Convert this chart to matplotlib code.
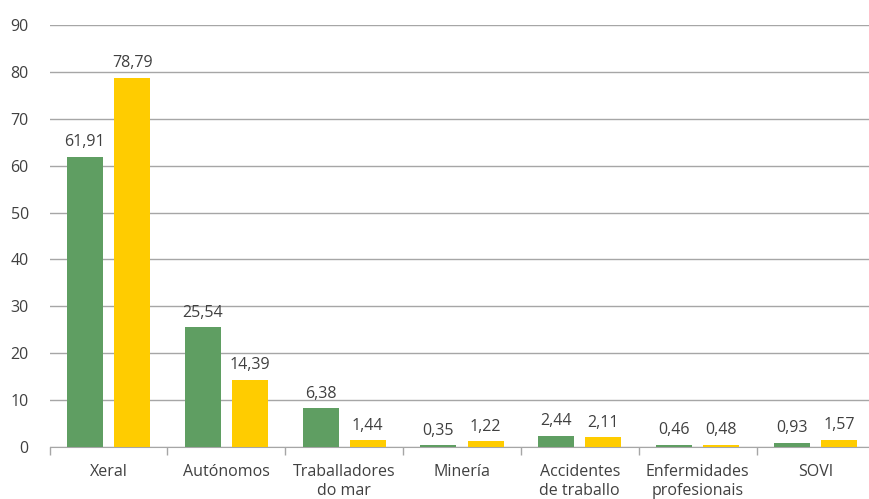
import numpy as np
import matplotlib
matplotlib.use('Agg')
from matplotlib import pyplot as plt

categories = ["Xeral", "Autónomos", "Traballadores\ndo mar", "Minería",
              "Accidentes\nde traballo", "Enfermidades\nprofesionais", "SOVI"]
green_vals = [61.91, 25.54, 8.3, 0.35, 2.44, 0.46, 0.93]
yellow_vals = [78.79, 14.39, 1.44, 1.22, 2.11, 0.48, 1.57]
green_labels = ["61,91", "25,54", "6,38", "0,35", "2,44", "0,46", "0,93"]
yellow_labels = ["78,79", "14,39", "1,44", "1,22", "2,11", "0,48", "1,57"]
yticks = [0, 10, 20, 30, 40, 50, 60, 70, 80, 90]

plt.rcParams['font.family'] = ['Open Sans', 'DejaVu Sans']
text_col = '#404040'
grid_col = '#a6a6a6'
fs = 11.5

fig = plt.figure(figsize=(8.7, 4.99), dpi=100)
ax = fig.add_axes([0.057, 0.104, 0.948, 0.846])

x = np.arange(len(categories))
w = 0.305
ax.bar(x - 0.2, green_vals, w, color='#5f9e62', zorder=3)
ax.bar(x + 0.2, yellow_vals, w, color='#ffcc00', zorder=3)

for i in range(len(x)):
    ax.text(x[i] - 0.2, green_vals[i] + 1.4, green_labels[i], ha='center',
            va='bottom', fontsize=fs, color=text_col)
    ax.text(x[i] + 0.2, yellow_vals[i] + 1.4, yellow_labels[i], ha='center',
            va='bottom', fontsize=fs, color=text_col)

ax.set_xlim(-0.5, len(categories) - 0.5)
ax.set_ylim(0, 90)
ax.set_yticks(yticks)
ax.set_yticklabels([str(t) for t in yticks], fontsize=fs, color=text_col)
ax.yaxis.grid(True, color=grid_col, linewidth=1, zorder=0)
ax.tick_params(axis='y', length=0, pad=15)

ax.set_xticks(x)
ax.set_xticklabels(categories, fontsize=fs, color=text_col, linespacing=1.3)
ax.tick_params(axis='x', length=0, pad=12)
ax.set_xticks(np.arange(len(categories) + 1) - 0.5, minor=True)
ax.tick_params(axis='x', which='minor', length=6, color=grid_col, width=1)

for s in ['top', 'right', 'left']:
    ax.spines[s].set_visible(False)
ax.spines['bottom'].set_color(grid_col)

fig.savefig('out.png', dpi=100)
